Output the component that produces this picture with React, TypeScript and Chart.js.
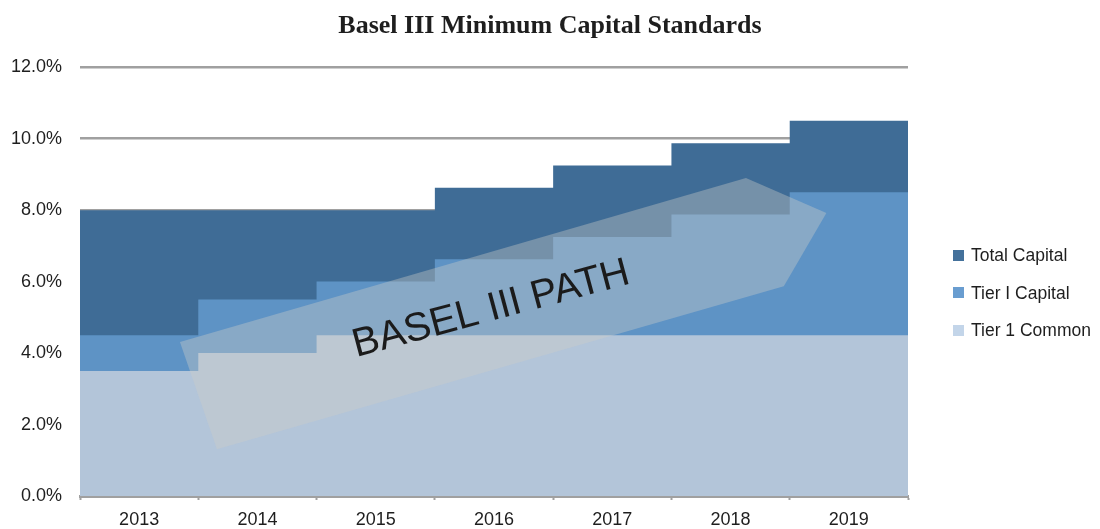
import React, { useEffect, useRef } from 'react';
import { Chart, registerables } from 'chart.js';

Chart.register(...registerables);

// ---- data ----
const years = ['2013', '2014', '2015', '2016', '2017', '2018', '2019'];
const totalCapital = [8.0, 8.0, 8.0, 8.625, 9.25, 9.875, 10.5];
const tier1Capital = [4.5, 5.5, 6.0, 6.625, 7.25, 7.875, 8.5];
const tier1Common = [3.5, 4.0, 4.5, 4.5, 4.5, 4.5, 4.5];
const yTickValues = [0, 2, 4, 6, 8, 10, 12];

// ---- annotation (arrow in data coordinates) ----
const arrowX = [0.845, 5.63, 6.31, 5.95, 1.158];
const arrowY = [4.31, 8.9, 7.92, 5.87, 1.31];
const arrowLabel = 'BASEL III PATH';
const arrowLabelAt = { x: 3.5, y: 4.92 };
const arrowLabelAngle = -15;

const SANS = '"Liberation Sans", Arial, sans-serif';

const toSteps = (vals: number[]) => [
  ...vals.map((v, i) => ({ x: i, y: v })),
  { x: vals.length, y: vals[vals.length - 1] },
];

const arrowPlugin = {
  id: 'baselArrow',
  afterDatasetsDraw(chart: any) {
    const { ctx, chartArea, scales } = chart;
    const x = scales.x;
    const y = scales.y;
    ctx.save();
    ctx.beginPath();
    ctx.rect(chartArea.left, chartArea.top, chartArea.right - chartArea.left, chartArea.bottom - chartArea.top);
    ctx.clip();
    ctx.beginPath();
    arrowX.forEach((vx, i) => {
      const px = x.getPixelForValue(vx);
      const py = y.getPixelForValue(arrowY[i]);
      if (i === 0) ctx.moveTo(px, py);
      else ctx.lineTo(px, py);
    });
    ctx.closePath();
    ctx.fillStyle = 'rgba(205,205,200,0.38)';
    ctx.fill();
    const tx = x.getPixelForValue(arrowLabelAt.x);
    const ty = y.getPixelForValue(arrowLabelAt.y);
    ctx.translate(tx, ty);
    ctx.rotate((arrowLabelAngle * Math.PI) / 180);
    ctx.font = '40px ' + SANS;
    ctx.fillStyle = '#1b1b1b';
    ctx.textAlign = 'center';
    ctx.textBaseline = 'alphabetic';
    ctx.fillText(arrowLabel, 0, 0);
    ctx.restore();
  },
};

// legend drawn beside the plot, in the space reserved by the right spacer axis
const sideLegendPlugin = {
  id: 'sideLegend',
  afterDraw(chart: any) {
    const { ctx, chartArea } = chart;
    const x0 = chartArea.right + 45;
    const yStart = chartArea.top + 188;
    const step = 37.5;
    ctx.save();
    ctx.font = '17.5px ' + SANS;
    ctx.textBaseline = 'middle';
    ctx.textAlign = 'left';
    chart.data.datasets.forEach((ds: any, i: number) => {
      const cy = yStart + i * step;
      ctx.fillStyle = ds.legendColor || ds.backgroundColor;
      ctx.fillRect(x0, Math.round(cy - 5.5), 11, 11);
      ctx.fillStyle = '#1e1e1e';
      ctx.fillText(ds.label, x0 + 18, cy + 1);
    });
    ctx.restore();
  },
};

export default function App() {
  const ref = useRef<HTMLCanvasElement>(null);

  useEffect(() => {
    const chart = new Chart(ref.current as HTMLCanvasElement, {
      type: 'line',
      data: {
        datasets: [
          {
            label: 'Total Capital',
            data: toSteps(totalCapital),
            backgroundColor: '#3F6C96',
            borderColor: '#3F6C96',
            legendColor: '#44719B',
            borderWidth: 0,
            pointRadius: 0,
            stepped: 'before',
            fill: 'origin',
            order: 3,
          },
          {
            label: 'Tier I Capital',
            data: toSteps(tier1Capital),
            backgroundColor: '#5E93C5',
            borderColor: '#5E93C5',
            legendColor: '#699DD0',
            borderWidth: 0,
            pointRadius: 0,
            stepped: 'before',
            fill: 'origin',
            order: 2,
          },
          {
            label: 'Tier 1 Common',
            data: toSteps(tier1Common),
            backgroundColor: '#B3C5D9',
            borderColor: '#B3C5D9',
            legendColor: '#C3D5E9',
            borderWidth: 0,
            pointRadius: 0,
            stepped: 'before',
            fill: 'origin',
            order: 1,
          },
        ],
      },
      options: {
        animation: false,
        responsive: true,
        maintainAspectRatio: false,
        layout: { padding: 0 },
        plugins: {
          title: {
            display: true,
            text: 'Basel III Minimum Capital Standards',
            color: '#1e1e1e',
            font: { family: '"Liberation Serif", "Times New Roman", serif', size: 26, weight: 'bold' },
            padding: { top: 3, bottom: 25 },
          },
          legend: { display: false },
          tooltip: { enabled: false },
        },
        scales: {
          x: {
            type: 'linear',
            min: 0,
            max: 7,
            afterBuildTicks: (scale: any) => {
              const t: any[] = [];
              for (let i = 0; i <= years.length; i++) {
                t.push({ value: i });
                if (i < years.length) t.push({ value: i + 0.5 });
              }
              scale.ticks = t;
            },
            afterFit: (scale: any) => {
              scale.height = 33;
            },
            border: { display: true, color: '#A0A0A0', width: 3 },
            grid: {
              drawOnChartArea: false,
              drawTicks: true,
              tickLength: 4,
              tickWidth: 2,
              tickColor: (c: any) =>
                c.tick && Number.isInteger(c.tick.value) ? '#A0A0A0' : 'rgba(0,0,0,0)',
            },
            ticks: {
              autoSkip: false,
              maxRotation: 0,
              padding: 9,
              color: '#1e1e1e',
              font: { family: SANS, size: 18 },
              callback: (v: any) => {
                const n = Number(v);
                return Number.isInteger(n) ? '' : years[Math.floor(n)];
              },
            },
          },
          y: {
            min: 0,
            max: 12,
            afterBuildTicks: (scale: any) => {
              scale.ticks = yTickValues.map((v) => ({ value: v }));
            },
            afterFit: (scale: any) => {
              scale.width = 72;
            },
            border: { display: false },
            grid: { color: '#A0A0A0', lineWidth: 2.5, drawTicks: false },
            ticks: {
              padding: 18,
              color: '#1e1e1e',
              font: { family: SANS, size: 18 },
              callback: (v: any) => Number(v).toFixed(1) + '%',
            },
          },
          legendSpace: {
            type: 'linear',
            position: 'right',
            display: true,
            min: 0,
            max: 1,
            grid: { display: false, drawOnChartArea: false },
            border: { display: false },
            ticks: { display: false },
            afterFit: (scale: any) => {
              scale.width = 184;
            },
          },
        },
      },
      plugins: [arrowPlugin, sideLegendPlugin],
    } as any);
    return () => chart.destroy();
  }, []);

  return (
    <div style={{ position: 'relative', width: 1084, height: 521 }}>
      <canvas ref={ref} />
    </div>
  );
}
